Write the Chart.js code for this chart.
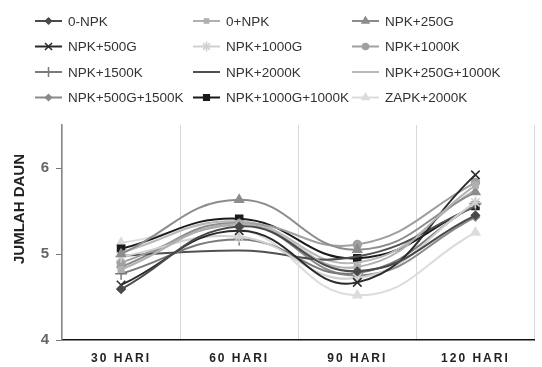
<!DOCTYPE html>
<html>
<head>
<meta charset="utf-8">
<script src="https://cdn.jsdelivr.net/npm/chart.js@4/dist/chart.umd.min.js"></script>
<style>
  html, body { margin: 0; padding: 0; background: #fff; }
  #wrap { width: 542px; height: 367px; }
</style>
</head>
<body>
<div id="wrap"><canvas id="myChart" width="542" height="367"></canvas></div>
<script>
var labels = ['30 HARI', '60 HARI', '90 HARI', '120 HARI'];

var npk0min      = [4.59, 5.32, 4.80, 5.45];
var npk0plus     = [4.82, 5.35, 4.85, 5.80];
var npk250g      = [5.00, 5.63, 5.05, 5.72];
var npk500g      = [4.64, 5.27, 4.67, 5.92];
var npk1000g     = [4.97, 5.20, 4.72, 5.60];
var npk1000k     = [4.90, 5.35, 5.11, 5.83];
var npk1500k     = [4.77, 5.17, 4.78, 5.58];
var npk2000k     = [4.98, 5.04, 4.97, 5.55];
var npk250g1000k = [5.02, 5.38, 4.90, 5.75];
var npk500g1500k = [4.85, 5.36, 4.75, 5.43];
var npk1000g1000k= [5.06, 5.41, 4.95, 5.56];
var zapk2000k    = [5.13, 5.30, 4.52, 5.25];

var yTicks = [4, 5, 6];

function line(label, data, color, style, radius) {
    return {
        label: label,
        data: data,
        borderColor: color,
        backgroundColor: color,
        borderWidth: 2,
        pointStyle: style,
        pointRadius: style ? (radius || 4) : 0,
        pointBorderWidth: 1.5,
        tension: 0.45
    };
}

var datasets = [
    line('0-NPK', npk0min, '#4a4a4a', 'rectRot'),
    line('0+NPK', npk0plus, '#b0b0b0', 'rect'),
    line('NPK+250G', npk250g, '#8c8c8c', 'triangle', 5),
    line('NPK+500G', npk500g, '#2a2a2a', 'crossRot', 6),
    line('NPK+1000G', npk1000g, '#d0d0d0', 'star', 6),
    line('NPK+1000K', npk1000k, '#a0a0a0', 'circle'),
    line('NPK+1500K', npk1500k, '#7a7a7a', 'cross', 6),
    line('NPK+2000K', npk2000k, '#505050', false),
    line('NPK+250G+1000K', npk250g1000k, '#b8b8b8', false),
    line('NPK+500G+1500K', npk500g1500k, '#8a8a8a', 'rectRot'),
    line('NPK+1000G+1000K', npk1000g1000k, '#1a1a1a', 'rect', 5),
    line('ZAPK+2000K', zapk2000k, '#dcdcdc', 'triangle', 5)
];

// legend in 3 fixed columns + y title placed like the original
var sideText = {
    id: 'sideText',
    beforeDraw: function (chart) {
        chart.ctx.letterSpacing = '2px';
    },
    beforeDatasetsDraw: function (chart) {
        chart.ctx.letterSpacing = '0px';
    },
    afterDraw: function (chart) {
        var ctx = chart.ctx;
        ctx.save();
        ctx.letterSpacing = '0px';
        var cols = [35, 193, 352];
        chart.data.datasets.forEach(function (ds, i) {
            var x = cols[i % 3];
            var y = 21 + Math.floor(i / 3) * 25.5;
            ctx.strokeStyle = ds.borderColor;
            ctx.fillStyle = ds.borderColor;
            ctx.lineWidth = 2;
            ctx.beginPath();
            ctx.moveTo(x, y);
            ctx.lineTo(x + 27, y);
            ctx.stroke();
            if (ds.pointStyle && Chart.helpers && Chart.helpers.drawPoint) {
                ctx.lineWidth = 1.5;
                Chart.helpers.drawPoint(ctx, {
                    pointStyle: ds.pointStyle,
                    radius: Math.max(3, ds.pointRadius - 1),
                    rotation: 0,
                    borderWidth: 1.5
                }, x + 13.5, y);
            }
            ctx.fillStyle = '#333';
            ctx.font = '13.5px "Liberation Sans", Arial, sans-serif';
            ctx.textBaseline = 'middle';
            ctx.textAlign = 'left';
            ctx.fillText(ds.label, x + 33, y + 1);
        });
        ctx.translate(20, 209);
        ctx.rotate(-Math.PI / 2);
        ctx.fillStyle = '#222';
        ctx.font = 'bold 15px "Liberation Sans", Arial, sans-serif';
        ctx.textAlign = 'center';
        ctx.textBaseline = 'middle';
        ctx.fillText('JUMLAH DAUN', 0, 0);
        ctx.restore();
    }
};

var ctx = document.getElementById('myChart').getContext('2d');
var myChart = new Chart(ctx, {
    type: 'line',
    data: {
        labels: labels,
        datasets: datasets
    },
    options: {
        responsive: false,
        animation: false,
        layout: { padding: { top: 125, right: 0, left: 0, bottom: 0 } },
        plugins: {
            legend: { display: false },
            tooltip: { enabled: false }
        },
        scales: {
            x: {
                offset: true,
                afterFit: function (s) { s.height = 27; },
                grid: { offset: true, color: '#d8d8d8', tickLength: 0 },
                border: { color: '#111', width: 1.5 },
                ticks: {
                    color: '#222',
                    padding: 11,
                    font: { family: '"Liberation Sans", Arial, sans-serif', size: 12, weight: 'bold' }
                }
            },
            y: {
                min: 4,
                max: 6.5,
                afterFit: function (s) { s.width = 62; },
                afterBuildTicks: function (s) {
                    s.ticks = yTicks.map(function (v) { return { value: v }; });
                },
                grid: { drawOnChartArea: false, tickLength: 6, color: '#777' },
                border: { color: '#888', width: 1.5 },
                ticks: {
                    color: '#666',
                    padding: 5,
                    font: { family: '"Liberation Sans", Arial, sans-serif', size: 15, weight: 'bold' }
                }
            }
        }
    },
    plugins: [sideText]
});
</script>
</body>
</html>
